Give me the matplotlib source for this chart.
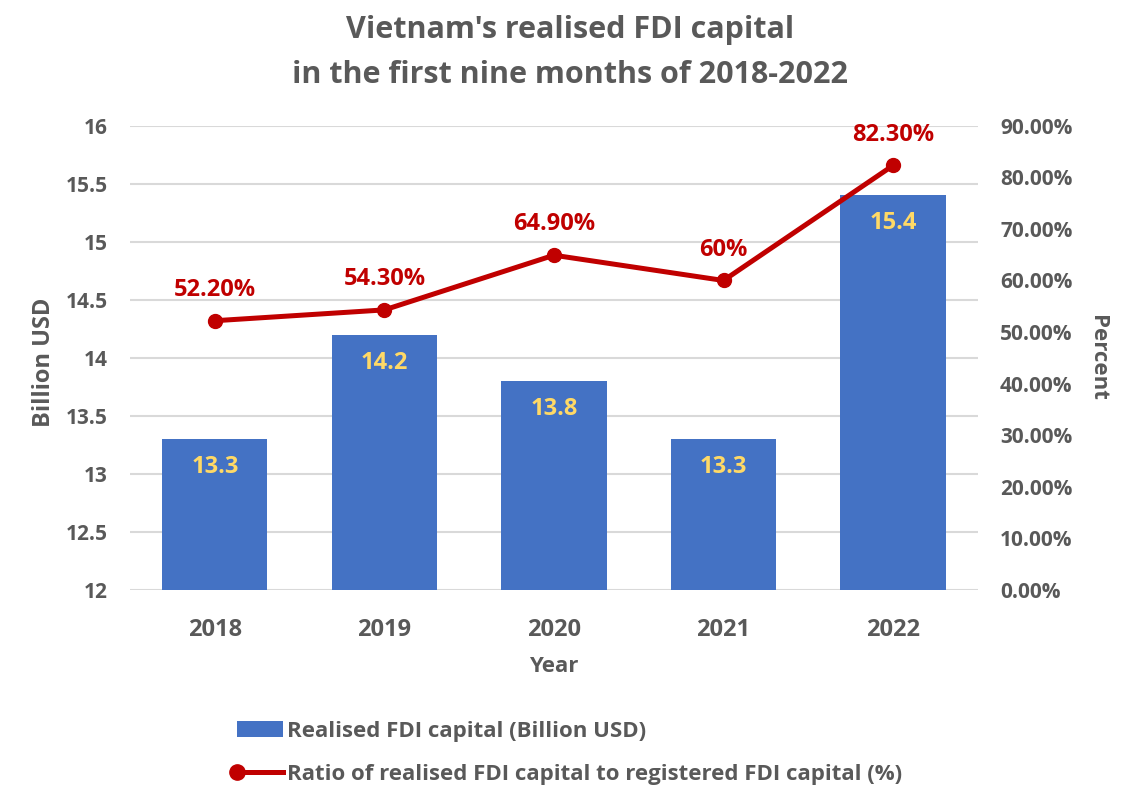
import numpy as np
import matplotlib.pyplot as plt
from matplotlib.lines import Line2D
from matplotlib.patches import Patch
from matplotlib.legend_handler import HandlerLine2D

# data
years = ["2018", "2019", "2020", "2021", "2022"]
capital = [13.3, 14.2, 13.8, 13.3, 15.4]
ratio = [52.2, 54.3, 64.9, 60.0, 82.3]
ratio_labels = ["52.20%", "54.30%", "64.90%", "60%", "82.30%"]

grey = "#595959"
blue = "#4472C4"
red = "#C00000"
yellow = "#FFD966"

plt.rcParams['font.family'] = ['Open Sans', 'DejaVu Sans']
plt.rcParams['font.weight'] = 'bold'


# legend line with the marker on its left end (like Excel)
class LeftMarkerHandler(HandlerLine2D):
    def create_artists(self, legend, orig_handle, xdescent, ydescent, width, height, fontsize, trans):
        artists = super().create_artists(legend, orig_handle, xdescent, ydescent,
                                         width, height, fontsize, trans)
        for a in artists:
            a.set_markevery([0])
        return artists


fig = plt.figure(figsize=(11.41, 8.06), dpi=100)
ax = fig.add_axes([0.114, 0.268, 0.743, 0.576])
x = np.arange(len(years))

ax.bar(x, capital, width=0.62, color=blue, zorder=2)
ax.set_ylim(12, 16)
ax.set_xlim(-0.5, 4.5)
ax.set_yticks(np.arange(12, 16.01, 0.5))
ax.set_yticklabels(["12", "12.5", "13", "13.5", "14", "14.5", "15", "15.5", "16"])
ax.set_xticks(x)
ax.set_xticklabels(years)
ax.yaxis.grid(True, color="#D9D9D9", linewidth=1.5, zorder=0)
ax.set_axisbelow(True)
for s in ax.spines.values():
    s.set_visible(False)
ax.tick_params(axis='y', length=0, labelsize=15, colors=grey, pad=16)
ax.tick_params(axis='x', length=0, labelsize=17, colors=grey, pad=20)

for xi, v in zip(x, capital):
    ax.text(xi, v - 0.24, f"{v}", ha='center', va='center', color=yellow,
            fontsize=17, fontweight='bold', zorder=3)

ax2 = ax.twinx()
ax2.plot(x, ratio, color=red, linewidth=3.6, marker='o', markersize=10, zorder=4)
ax2.set_ylim(0, 90)
ax2.set_yticks(np.arange(0, 91, 10))
ax2.set_yticklabels([f"{t:.2f}%" for t in np.arange(0, 91, 10)])
for s in ax2.spines.values():
    s.set_visible(False)
ax2.tick_params(length=0, labelsize=15, colors=grey, pad=16)

for xi, v, lab in zip(x, ratio, ratio_labels):
    ax2.text(xi, v + 6.0, lab, ha='center', va='center', color=red,
             fontsize=17, fontweight='bold')

# axis titles
fig.text(44 / 1141, 1 - 362 / 806, "Billion USD", rotation=90, ha='center', va='center',
         fontsize=17, color=grey, fontweight='bold')
fig.text(1097 / 1141, 1 - 358 / 806, "Percent", rotation=270, ha='center', va='center',
         fontsize=16, color=grey, fontweight='bold')
fig.text(554 / 1141, 1 - 666 / 806, "Year", ha='center', va='center',
         fontsize=16, color=grey, fontweight='bold')

fig.text(0.5, 0.963, "Vietnam's realised FDI capital", ha='center', va='center',
         fontsize=22, color=grey, fontweight='bold')
fig.text(0.5, 0.907, "in the first nine months of 2018-2022", ha='center', va='center',
         fontsize=22, color=grey, fontweight='bold')

line_handle = Line2D([0], [0], color=red, linewidth=3.6, marker='o', markersize=11)
handles = [Patch(facecolor=blue), line_handle]
labels = ["Realised FDI capital (Billion USD)",
          "Ratio of realised FDI capital to registered FDI capital (%)"]
leg = fig.legend(handles, labels, loc='center left', bbox_to_anchor=(237 / 1141, 1 - 753 / 806),
                 frameon=False, fontsize=16, handlelength=2.07, handletextpad=0.18,
                 labelspacing=1.0, labelcolor=grey, borderpad=0, borderaxespad=0,
                 handler_map={line_handle: LeftMarkerHandler()})

fig.savefig("out.png", dpi=100)
